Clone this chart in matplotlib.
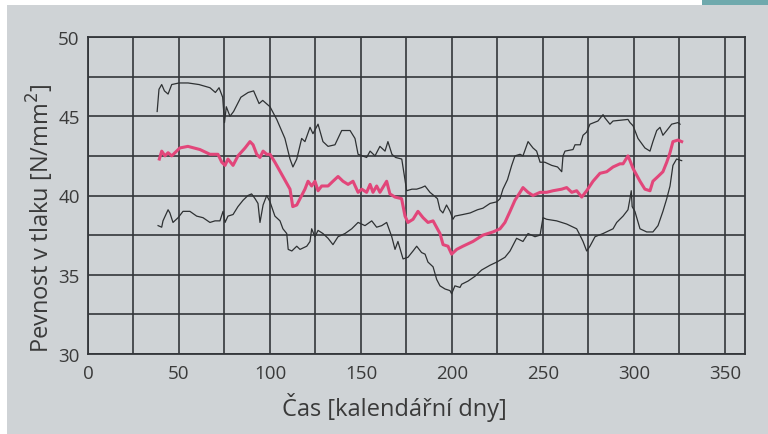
import matplotlib.pyplot as plt
from matplotlib.patches import Rectangle

plt.rcParams['font.family'] = ['Open Sans', 'DejaVu Sans']

# horni obalka (x = den, y = pevnost)
upper_x = [38, 39, 40.5, 42, 44, 46, 50, 55, 61, 64, 67, 70, 72, 74, 75, 76, 78, 80, 84, 88,
           91, 94, 96, 100, 103.7, 108.2, 111, 112.6, 114.7, 117.4, 119.2, 122, 123.6, 126.4,
           129.1, 131.9, 135.7, 139.4, 144, 146.7, 148.4, 153.1, 155, 157.7, 160.4, 163.2,
           164.8, 167, 169, 172.4, 175.1, 178, 180.6, 183.3, 185.2, 187.9, 190, 192, 193.4,
           195, 197, 198.9, 200.5, 201.6, 206, 210, 214, 217, 220.9, 224.6, 226.4, 228, 230.5,
           232.8, 234.6, 237.4, 239, 241.8, 244.5, 246.5, 248.4, 251, 254.8, 258, 260.3, 261,
           262.1, 266.5, 267.6, 270.5, 272, 274, 275.8, 280.2, 283, 284, 286.8, 288.5, 296.7,
           297.8, 299.5, 302.2, 306, 308.8, 310.4, 312.5, 314.3, 315.9, 318, 320.7, 324.2, 325.3]
upper_y = [45.3, 46.7, 47.0, 46.6, 46.4, 47.0, 47.1, 47.1, 47.0, 46.9, 46.8, 46.5, 46.8, 46.2,
           44.6, 45.6, 45.0, 45.3, 46.2, 46.5, 46.6, 45.8, 46.0, 45.6, 44.8, 43.6, 42.3, 41.8,
           42.3, 43.6, 43.4, 44.3, 43.9, 44.5, 43.4, 43.1, 43.2, 44.1, 44.1, 43.6, 42.6, 42.4,
           42.8, 42.5, 43.1, 42.8, 43.4, 42.6, 42.4, 42.3, 40.3, 40.4, 40.4, 40.5, 40.6, 40.2,
           40.0, 39.8, 39.1, 38.9, 39.4, 39.0, 38.5, 38.7, 38.8, 38.9, 39.1, 39.2, 39.5, 39.6,
           39.8, 40.4, 41.0, 41.9, 42.5, 42.6, 42.5, 43.4, 43.0, 42.8, 42.1, 42.1, 41.9, 41.8,
           41.5, 42.5, 42.8, 42.9, 43.2, 43.2, 43.8, 44.0, 44.5, 44.7, 45.1, 44.9, 44.5, 44.7,
           44.8, 44.6, 44.4, 43.6, 43.0, 42.8, 43.4, 44.1, 44.3, 43.8, 44.1, 44.5, 44.6, 44.5]

# prumer
mean_x = [39.2, 40.5, 42.3, 44, 46, 50.5, 54.9, 61.5, 67, 71.4, 73.5, 75.3, 76.9, 79.7, 82.4,
          86.3, 89, 90.7, 92.7, 94.5, 96.2, 98.2, 100, 102.7, 107.1, 111, 112.5, 114.7, 116.5,
          119.2, 120.9, 122.9, 124.7, 126.4, 128.4, 131.9, 134.6, 137.4, 140.1, 142.9, 145.6,
          148.4, 150.4, 153.1, 155, 156.6, 158.6, 160.4, 164.1, 165.9, 168.7, 172.3, 174.2,
          175.8, 178.6, 181.3, 184.1, 186.8, 189.6, 193.4, 195.1, 197.8, 199.8, 202.6, 206,
          211.5, 217, 222.5, 226.4, 229.1, 231.9, 234.6, 237.4, 239, 241.8, 244.5, 248.4, 252,
          255.5, 260.3, 263, 265.8, 268.5, 271.3, 274, 277.5, 281.3, 285, 288.5, 292.3, 294,
          296.7, 297.8, 299.5, 303.3, 306, 308.8, 310.4, 313.2, 315.9, 318, 319.8, 321.4,
          324.2, 326.2]
mean_y = [42.3, 42.8, 42.5, 42.7, 42.5, 43.0, 43.1, 42.9, 42.6, 42.6, 42.1, 41.9, 42.3, 41.9,
          42.5, 43.0, 43.4, 43.2, 42.6, 42.4, 42.8, 42.6, 42.6, 42.1, 41.2, 40.4, 39.3, 39.4,
          39.8, 40.4, 40.9, 40.6, 40.9, 40.3, 40.6, 40.6, 40.9, 41.2, 40.9, 40.7, 40.9, 40.2,
          40.4, 40.2, 40.7, 40.2, 40.6, 40.2, 40.9, 40.1, 39.9, 39.8, 38.7, 38.3, 38.5, 39.0,
          38.6, 38.3, 38.4, 37.6, 36.9, 36.8, 36.3, 36.6, 36.8, 37.1, 37.5, 37.7, 37.9, 38.3,
          39.0, 39.7, 40.2, 40.5, 40.2, 40.0, 40.2, 40.2, 40.3, 40.4, 40.5, 40.2, 40.3, 39.9,
          40.3, 40.9, 41.4, 41.5, 41.8, 42.0, 42.0, 42.5, 42.2, 41.7, 40.9, 40.4, 40.3, 40.9,
          41.2, 41.5, 42.1, 42.7, 43.4, 43.5, 43.4]

# dolni obalka
lower_x = [38.5, 40.5, 41.2, 44, 45, 46.7, 49.5, 52.2, 56, 59.7, 63.2, 67, 69.8, 72.5, 74.2,
           75.3, 76.9, 79.7, 82.4, 85.2, 87.9, 89.9, 91.8, 93.4, 94.5, 96.2, 98.2, 100, 102.7,
           105.5, 107.1, 109.2, 110, 112, 114.7, 116.5, 120.2, 122, 122.9, 124.7, 126.4, 129.1,
           131.9, 134.6, 137.4, 141.2, 144.9, 148.4, 152.2, 155.9, 158.6, 161.4, 164.1, 166.9,
           168.7, 170.3, 173.1, 175.8, 178.6, 180.6, 183.3, 185.2, 186.8, 189.6, 191.6, 193.4,
           196.2, 198.9, 199.8, 201.6, 204.4, 205.3, 208.8, 212.6, 216.3, 220.9, 224.6, 229.1,
           231.9, 235.5, 239, 241.8, 245.6, 248.4, 250, 252, 257.5, 263, 268.5, 270.3, 272, 274,
           275.8, 278.6, 283, 288.5, 290.5, 294, 296.7, 297.8, 298.5, 299, 300.5, 303.3, 307,
           310.4, 313.2, 315.9, 318, 319.8, 321.4, 323.4, 326.2]
lower_y = [38.1, 38.0, 38.4, 39.1, 38.9, 38.3, 38.6, 39.0, 39.0, 38.7, 38.6, 38.3, 38.4, 38.4,
           39.0, 38.3, 38.7, 38.8, 39.3, 39.7, 40.0, 40.1, 39.8, 39.5, 38.3, 39.4, 40.0, 39.6,
           38.7, 38.4, 37.9, 37.6, 36.6, 36.5, 36.8, 36.6, 36.8, 37.1, 37.9, 37.4, 37.8, 37.6,
           37.3, 36.9, 37.4, 37.6, 37.9, 38.3, 38.1, 38.4, 38.0, 38.1, 38.3, 37.4, 36.6, 37.1,
           36.0, 36.1, 36.5, 36.8, 36.4, 36.3, 35.8, 35.5, 34.7, 34.3, 34.1, 34.0, 33.8, 34.3,
           34.2, 34.4, 34.6, 34.9, 35.3, 35.6, 35.8, 36.1, 36.5, 37.3, 37.1, 37.6, 37.4, 37.5,
           38.6, 38.5, 38.4, 38.2, 37.9, 37.5, 37.1, 36.5, 36.8, 37.4, 37.6, 37.9, 38.3, 38.7,
           39.1, 39.8, 40.3, 39.3, 39.0, 37.9, 37.7, 37.7, 38.1, 39.0, 39.8, 40.6, 41.9, 42.3,
           42.2]

x_ticks = list(range(0, 351, 25))
y_ticks = [30 + 2.5 * i for i in range(9)]

bg = '#cfd3d6'
grid_c = '#33363a'
txt_c = '#3a3a3a'
pink = '#e2467a'

fig = plt.figure(figsize=(7.68, 4.35), dpi=100, facecolor='white')
# sede pozadi + tyrkysovy pruh nahore
fig.patches.append(Rectangle((7 / 768, 0), 1 - 7 / 768, 1 - 6 / 435, transform=fig.transFigure,
                             facecolor=bg, edgecolor='none', zorder=-2))
fig.patches.append(Rectangle((702 / 768, 1 - 6 / 435), 66 / 768, 6 / 435, transform=fig.transFigure,
                             facecolor='#6fa9ad', edgecolor='none', zorder=-2))

ax = fig.add_axes([88 / 768, 1 - 355 / 435, (745 - 88) / 768, (355 - 38) / 435])
ax.set_zorder(1)
ax.set_facecolor(bg)

ax.plot(upper_x, upper_y, color='#2e3133', linewidth=0.9, zorder=3)
ax.plot(lower_x, lower_y, color='#2e3133', linewidth=0.9, zorder=3)
ax.plot(mean_x, mean_y, color=pink, linewidth=2.2, zorder=4)

ax.set_xlim(0, 361)
ax.set_ylim(30, 50)
ax.set_xticks(x_ticks)
ax.set_xticklabels([str(t) if t % 50 == 0 else '' for t in x_ticks])
ax.set_yticks(y_ticks)
ax.set_yticklabels([str(int(t)) if t % 5 == 0 else '' for t in y_ticks])
ax.tick_params(length=0, labelsize=13.5, colors=txt_c)
ax.tick_params(axis='y', pad=6)
ax.tick_params(axis='x', pad=7)
ax.grid(True, color=grid_c, linewidth=1.4, alpha=0.85)
ax.set_axisbelow(True)
for s in ax.spines.values():
    s.set_color(grid_c)
    s.set_linewidth(1.3)

ax.set_xlabel('Čas [kalendářní dny]', fontsize=17, color=txt_c, va='top')
ax.xaxis.set_label_coords(0.466, -0.12)
ax.set_ylabel('Pevnost v tlaku [N/mm$^2$]', fontsize=17, color=txt_c)
ax.yaxis.set_label_coords(-0.048, 0.43)

plt.savefig('out.png', dpi=100, facecolor='white')
